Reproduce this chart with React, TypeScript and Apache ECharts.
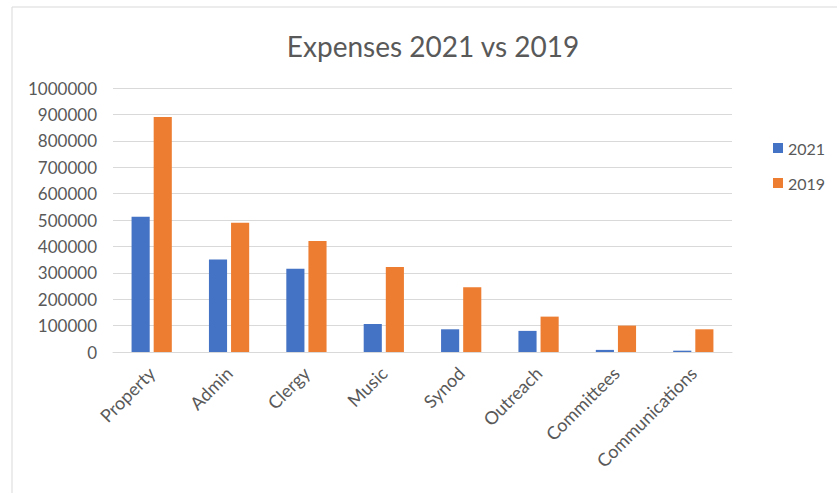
import React, { useEffect, useRef } from "react";
import * as echarts from "echarts";

const categories = ["Property", "Admin", "Clergy", "Music", "Synod", "Outreach", "Committees", "Communications"];
const values2021 = [512000, 350000, 315000, 106000, 86000, 80000, 8000, 5000];
const values2019 = [890000, 490000, 420000, 322000, 245000, 134000, 100000, 86000];
const seriesNames = ["2021", "2019"];

export default function App() {
  const ref = useRef<HTMLDivElement>(null);
  useEffect(() => {
    document.body.style.margin = "0";
    const chart = echarts.init(ref.current!, null, { renderer: "svg" });
    const font = "Lato, 'Open Sans', sans-serif";
    chart.setOption({
      animation: false,
      backgroundColor: "#fff",
      textStyle: { fontFamily: font },
      title: {
        text: "Expenses 2021 vs 2019",
        left: 428,
        top: 27,
        textAlign: "center",
        textStyle: { fontFamily: font, fontSize: 28, fontWeight: "normal", color: "#595959" },
      },
      graphic: [
        {
          type: "rect",
          shape: { x: 12, y: 7, width: 900, height: 600 },
          style: { fill: "none", stroke: "#d9d9d9", lineWidth: 1 },
          silent: true,
        },
      ],
      legend: {
        orient: "vertical",
        left: 768,
        top: 135,
        itemWidth: 10,
        itemHeight: 10,
        itemGap: 19,
        icon: "rect",
        textStyle: { fontFamily: font, fontSize: 16, color: "#595959" },
        data: seriesNames,
      },
      grid: { left: 113, right: 105, top: 88, bottom: 141, containLabel: false },
      xAxis: {
        type: "category",
        data: categories,
        axisLine: { lineStyle: { color: "#d9d9d9" } },
        axisTick: { show: false },
        axisLabel: { rotate: 45, fontSize: 18, color: "#595959", fontFamily: font, margin: 18, interval: 0 },
      },
      yAxis: {
        type: "value",
        min: 0,
        max: 1000000,
        interval: 100000,
        axisLine: { show: false },
        axisTick: { show: false },
        axisLabel: { fontSize: 17, color: "#595959", fontFamily: font, margin: 16, formatter: (v: number) => String(v) },
        splitLine: { lineStyle: { color: "#d9d9d9" } },
      },
      series: [
        { name: seriesNames[0], type: "bar", data: values2021, itemStyle: { color: "#4472C4" }, barGap: "22%", barCategoryGap: "48%" },
        { name: seriesNames[1], type: "bar", data: values2019, itemStyle: { color: "#ED7D31" }, barGap: "22%", barCategoryGap: "48%" },
      ],
    });
    return () => chart.dispose();
  }, []);
  return <div ref={ref} style={{ width: 837, height: 493 }} />;
}
